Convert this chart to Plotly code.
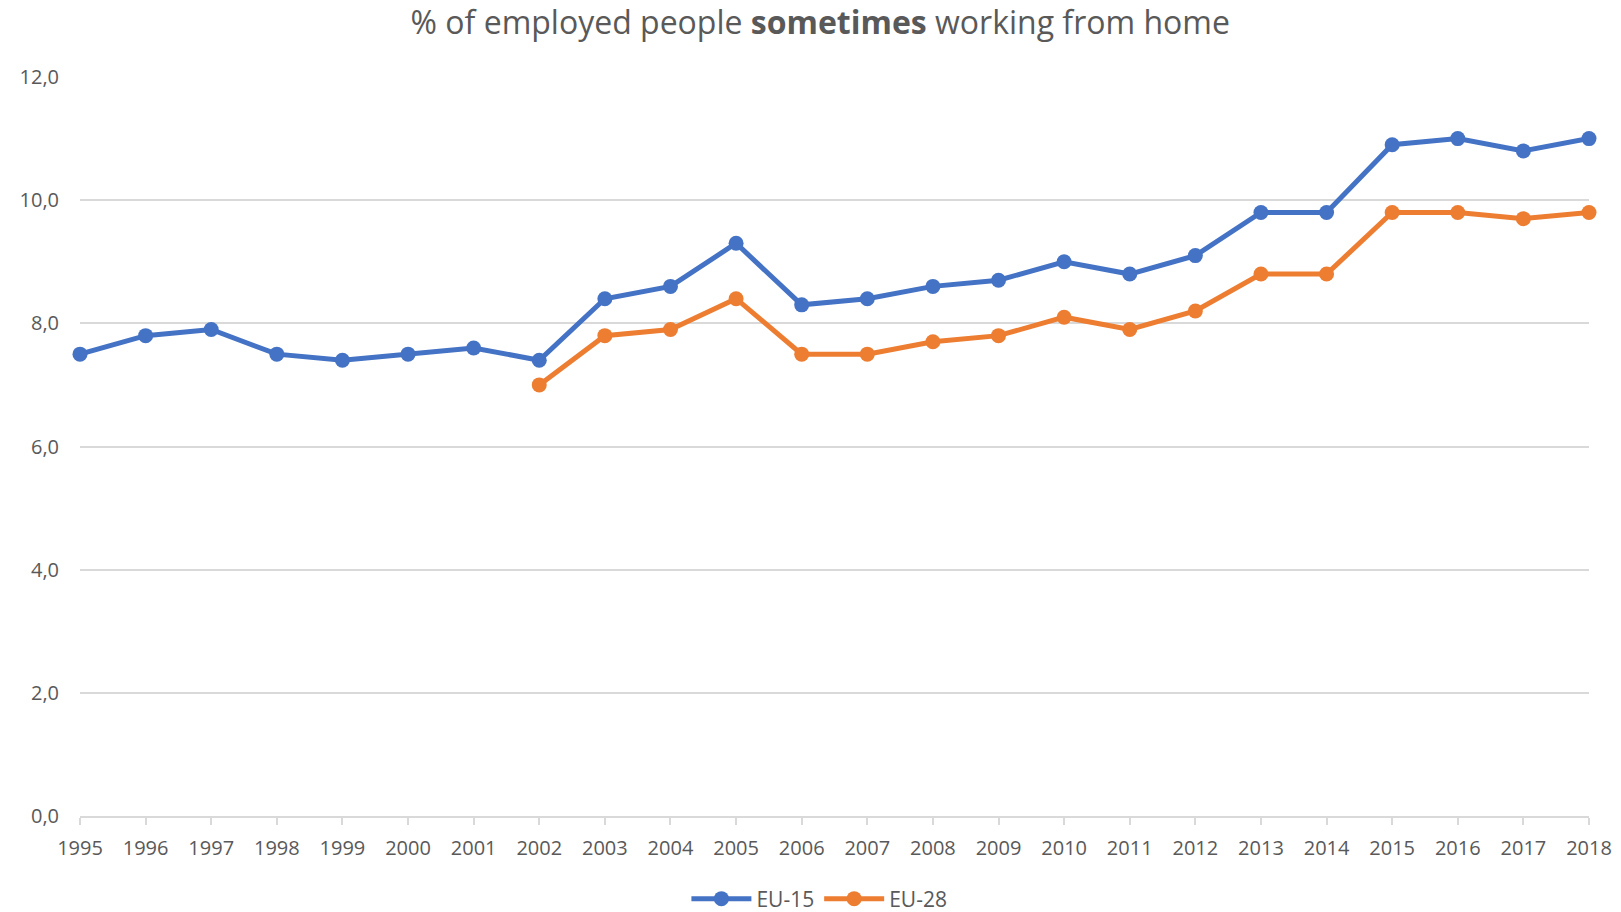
import plotly.graph_objects as go

years_eu15 = list(range(1995, 2019))
eu15 = [7.5, 7.8, 7.9, 7.5, 7.4, 7.5, 7.6, 7.4, 8.4, 8.6, 9.3, 8.3, 8.4, 8.6, 8.7,
        9.0, 8.8, 9.1, 9.8, 9.8, 10.9, 11.0, 10.8, 11.0]
years_eu28 = list(range(2002, 2019))
eu28 = [7.0, 7.8, 7.9, 8.4, 7.5, 7.5, 7.7, 7.8, 8.1, 7.9, 8.2, 8.8, 8.8, 9.8, 9.8,
        9.7, 9.8]
y_ticks = [0, 2, 4, 6, 8, 10, 12]

font_family = "Open Sans, Noto Sans, sans-serif"
grey = "#595959"

fig = go.Figure()
fig.add_trace(go.Scatter(x=years_eu15, y=eu15, name="EU-15", mode="lines+markers",
                         line=dict(color="#4472C4", width=5),
                         marker=dict(size=15, color="#4472C4"), cliponaxis=False))
fig.add_trace(go.Scatter(x=years_eu28, y=eu28, name="EU-28", mode="lines+markers",
                         line=dict(color="#ED7D31", width=5),
                         marker=dict(size=15, color="#ED7D31"), cliponaxis=False))

fig.update_layout(
    width=1621, height=912,
    margin=dict(l=80, r=32, t=77, b=96, autoexpand=False),
    paper_bgcolor="white", plot_bgcolor="white",
    separators=",.",
    font=dict(family=font_family, color=grey, size=20),
    title=dict(text="% of employed people <b>sometimes</b> working from home",
               x=0.506, xref="container", xanchor="center",
               y=1 - 23 / 912, yref="container", yanchor="middle",
               font=dict(size=32, color=grey, family=font_family)),
    showlegend=True,
    legend=dict(orientation="h", x=0.49, xanchor="center", xref="paper",
                y=1 - 899 / 912, yref="container", yanchor="middle",
                font=dict(size=21, color=grey), itemwidth=60),
    xaxis=dict(range=[1995, 2018], tickmode="array", tickvals=years_eu15,
               ticktext=[str(y) for y in years_eu15], showgrid=False,
               showline=True, linecolor="#d9d9d9", linewidth=1.5,
               ticks="outside", ticklen=7, tickcolor="#d9d9d9", tickwidth=1.5,
               ticklabelstandoff=6, automargin=False,
               zeroline=False, tickfont=dict(size=20, color=grey)),
    yaxis=dict(range=[0, 12], tickmode="array", tickvals=y_ticks, tickformat=".1f",
               showgrid=True, gridcolor="#d9d9d9", gridwidth=1.5,
               zeroline=False, showline=False, ticks="", ticklabelstandoff=20,
               automargin=False, tickfont=dict(size=20, color=grey)),
)

fig.write_html("out.html")
